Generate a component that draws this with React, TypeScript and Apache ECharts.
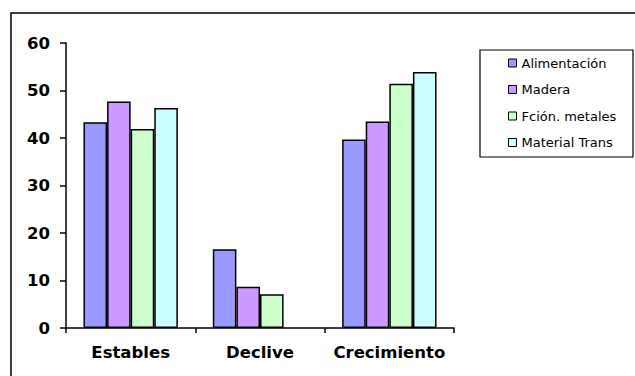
import React, { useEffect, useRef } from "react";
import * as echarts from "echarts";

const categories = ["Estables", "Declive", "Crecimiento"];
const seriesNames = ["Alimentación", "Madera", "Fción. metales", "Material Trans"];
const alimentacion = [43.3, 16.6, 39.7];
const madera = [47.7, 8.7, 43.5];
const fcionMetales = [41.9, 7.1, 51.4];
const materialTrans = [46.3, null, 53.9];
const colors = ["#9999FF", "#CC99FF", "#CCFFCC", "#CCFFFF"];
const yTicks = [0, 10, 20, 30, 40, 50, 60];

const FONT = "DejaVu Sans, Liberation Sans, Arial, sans-serif";

export default function App() {
  const ref = useRef<HTMLDivElement>(null);
  useEffect(() => {
    document.body.style.margin = "0";
    const chart = echarts.init(ref.current!, null, { renderer: "svg" });
    const data = [alimentacion, madera, fcionMetales, materialTrans];
    chart.setOption({
      animation: false,
      textStyle: { fontFamily: FONT },
      graphic: [
        {
          type: "rect",
          shape: { x: 11, y: 13, width: 640, height: 400 },
          style: { fill: "none", stroke: "#000", lineWidth: 1.5 },
          silent: true,
        },
        {
          type: "rect",
          shape: { x: 480, y: 50, width: 153, height: 107 },
          style: { fill: "#fff", stroke: "#000", lineWidth: 1.2 },
          silent: true,
          z: 0,
        },
      ],
      legend: {
        orient: "vertical",
        left: 508,
        top: 56,
        padding: 0,
        itemWidth: 8,
        itemHeight: 8,
        itemGap: 12.5,
        itemTextGap: 4,
        itemStyle: { borderColor: "#000", borderWidth: 1 },
        icon: "rect",
        textStyle: { fontSize: 13, lineHeight: 14, color: "#000", fontFamily: FONT },
        data: seriesNames,
        z: 5,
      },
      grid: { left: 66, top: 43, right: 181, bottom: 48 },
      xAxis: {
        type: "category",
        data: categories,
        axisLine: { lineStyle: { color: "#000", width: 1.5 } },
        axisTick: { show: true, length: 5, interval: 0, lineStyle: { color: "#000", width: 1.5 } },
        axisLabel: {
          color: "#000",
          fontSize: 16.5,
          fontWeight: "bold",
          margin: 16,
          interval: 0,
          hideOverlap: false,
          fontFamily: FONT,
        },
      },
      yAxis: {
        type: "value",
        min: yTicks[0],
        max: yTicks[yTicks.length - 1],
        interval: 10,
        axisLine: { show: true, lineStyle: { color: "#000", width: 1.5 } },
        axisTick: { show: true, length: 6, lineStyle: { color: "#000", width: 1.5 } },
        axisLabel: { color: "#000", fontSize: 16.5, fontWeight: "bold", margin: 16, fontFamily: FONT },
        splitLine: { show: false },
      },
      series: seriesNames.map((name, i) => ({
        name,
        type: "bar",
        data: data[i],
        barGap: "0%",
        barCategoryGap: "27%",
        itemStyle: { color: colors[i], borderColor: "#000", borderWidth: 1.5 },
      })),
    });
    return () => chart.dispose();
  }, []);
  return <div ref={ref} style={{ width: 635, height: 376 }} />;
}
